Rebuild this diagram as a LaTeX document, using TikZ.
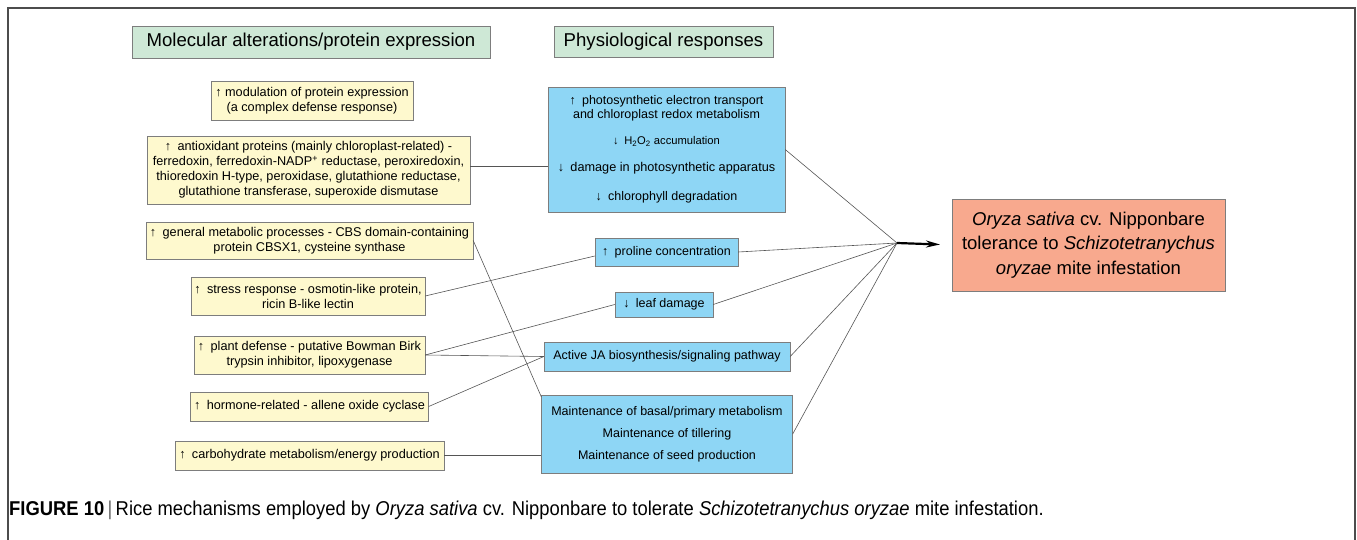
\documentclass[tikz,border=0pt]{standalone}
\usepackage{fontspec}
\setmainfont{Liberation Sans}
\newfontfamily\capfont{Liberation Sans}[FakeStretch=0.92]
\usetikzlibrary{positioning,arrows.meta}
\definecolor{headgreen}{RGB}{206,232,214}
\definecolor{protyellow}{RGB}{254,249,206}
\definecolor{respblue}{RGB}{142,214,245}
\definecolor{tolsalmon}{RGB}{248,169,142}
\definecolor{edgegray}{RGB}{125,125,125}
\definecolor{linkgray}{RGB}{85,85,85}

\begin{document}
\begin{tikzpicture}[x=1pt,y=-1pt,
    headbox/.style={draw=edgegray,fill=headgreen,inner sep=0pt,font=\fontsize{18.6}{22}\selectfont},
    protbox/.style={draw=edgegray,fill=protyellow,inner sep=0pt,align=center,font=\fontsize{12.7}{15}\selectfont},
    respbox/.style={draw=edgegray,fill=respblue,inner sep=0pt,align=center,font=\fontsize{12.5}{14}\selectfont},
    link/.style={draw=linkgray,line width=0.6pt}]
  \useasboundingbox (0,0) rectangle (1357,540);
  \draw [line width=1.5pt, black!70] (8,540) -- (8,8) -- (1355,8) -- (1355,540);
  \node [headbox, minimum width=358pt, minimum height=32pt] (MolHead) at (311,42) {Molecular alterations/protein expression};
  \node [headbox, minimum width=219pt, minimum height=31pt] (PhysHead) at (663.5,41.5) {Physiological responses};
  \node [protbox, minimum width=202pt, minimum height=39pt] (ModExp) at (312,100.5) {↑ modulation of protein expression\\(a complex defense response)};
  \node [protbox, on grid, below left=69.5pt and 3.5pt of ModExp, minimum width=323pt, minimum height=68pt] (AntiOx) {↑\enspace antioxidant proteins (mainly chloroplast-related) -\\ferredoxin, ferredoxin-NADP\textsuperscript{+} reductase, peroxiredoxin,\\thioredoxin H-type, peroxidase, glutathione reductase,\\glutathione transferase, superoxide dismutase};
  \node [protbox, on grid, below right=70.5pt and 1pt of AntiOx, minimum width=327pt, minimum height=37pt] (GenMet) {↑\enspace general metabolic processes - CBS domain-containing\\protein CBSX1, cysteine synthase};
  \node [protbox, on grid, below left=55.5pt and 1.5pt of GenMet, minimum width=234pt, minimum height=38pt] (StressResp) {↑\enspace stress response - osmotin-like protein,\\ricin B-like lectin};
  \node [protbox, on grid, below right=59pt and 1.5pt of StressResp, minimum width=231pt, minimum height=38pt] (PlantDef) {↑\enspace plant defense - putative Bowman Birk\\trypsin inhibitor, lipoxygenase};
  \node [protbox, on grid, below=51.5pt of PlantDef, minimum width=238pt, minimum height=29pt] (Hormone) {↑\enspace hormone-related - allene oxide cyclase};
  \node [protbox, on grid, below=49pt of Hormone, minimum width=269pt, minimum height=29pt] (CarbMet) {↑\enspace carbohydrate metabolism/energy production};
  \node [respbox, minimum width=237pt, minimum height=125pt] (Photo) at (666.5,149.5) {↑\enspace photosynthetic electron transport\\and chloroplast redox metabolism\\[12pt]{\fontsize{11.2}{13}\selectfont ↓\enspace H\textsubscript{2}O\textsubscript{2} accumulation}\\[13pt]{\fontsize{12.7}{14}\selectfont ↓\enspace damage in photosynthetic apparatus}\\[15pt]↓\enspace chlorophyll degradation};
  \node [respbox, on grid, below=102.5pt of Photo, minimum width=143pt, minimum height=28pt] (Proline) {↑\enspace proline concentration};
  \node [respbox, on grid, below left=52.5pt and 2.5pt of Proline, minimum width=98pt, minimum height=25pt] (LeafDmg) {↓\enspace leaf damage};
  \node [respbox, on grid, below right=52pt and 3pt of LeafDmg, minimum width=246pt, minimum height=29pt] (JaPath) {Active JA biosynthesis/signaling pathway};
  \node [respbox, on grid, below=77.5pt of JaPath, minimum width=251pt, minimum height=78pt] (Maint) {Maintenance of basal/primary metabolism\\[8pt]Maintenance of tillering\\[8pt]Maintenance of seed production};
  \node [draw=edgegray, fill=tolsalmon, inner sep=0pt, align=center, minimum width=273pt, minimum height=92pt, font=\fontsize{18.5}{24.5}\selectfont] (Tol) at (1088.5,245) {\textit{Oryza sativa} cv. Nipponbare\\tolerance to \textit{Schizotetranychus}\\\textit{oryzae} mite infestation};
  \node [anchor=west, inner sep=0pt, font=\capfont\fontsize{20}{23}\selectfont] (Caption) at (9,510) {\textbf{FIGURE 10}\,{\color{black!60}|}\,Rice mechanisms employed by \textit{Oryza sativa} cv. Nipponbare to tolerate \textit{Schizotetranychus oryzae} mite infestation.};
  \coordinate (Hub) at (897,243);
  \coordinate (TipEnd) at (940,244.5);
  \coordinate [yshift=4pt] (AntiOxOut) at (AntiOx.east);
  \draw [link] (AntiOxOut) to (AntiOxOut -| Photo.west);
  \draw [link] (GenMet.east) to ([yshift=-2pt]Maint.north west);
  \draw [link] (StressResp.east) to ([yshift=-4pt]Proline.west);
  \draw [link] (PlantDef.east) to (LeafDmg.west);
  \draw [link] (PlantDef.east) to (JaPath.west);
  \draw [link] (Hormone.east) to (JaPath.west);
  \draw [link] (CarbMet.east) to (CarbMet.east -| Maint.west);
  \draw [link] (Photo.east) to (Hub);
  \draw [link] (Proline.east) to (Hub);
  \draw [link] (LeafDmg.east) to (Hub);
  \draw [link] (JaPath.east) to (Hub);
  \draw [link] (Maint.east) to (Hub);
  \draw [line width=2.2pt, -{Stealth[length=14pt,width=7pt]}] (Hub) to (TipEnd);
\end{tikzpicture}
\end{document}
